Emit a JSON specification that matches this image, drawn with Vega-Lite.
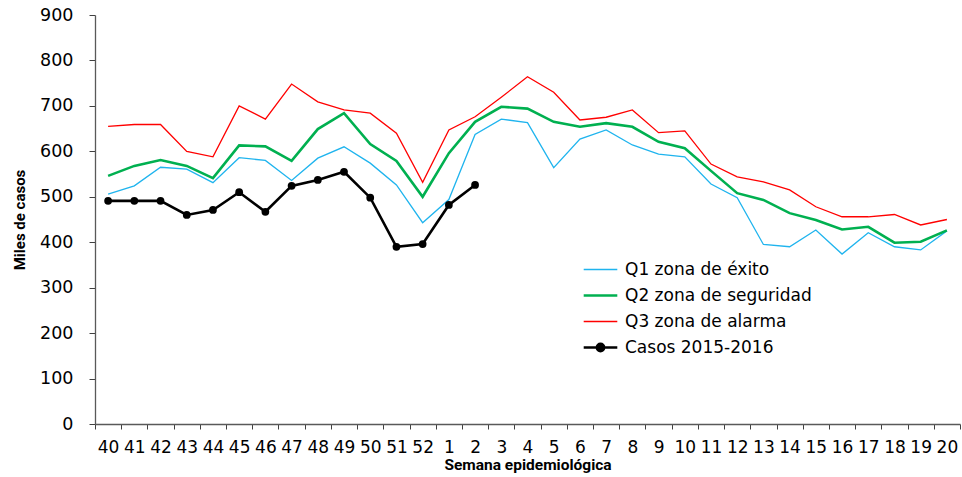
{
  "$schema": "https://vega.github.io/schema/vega-lite/v6.json",
  "width": 865,
  "height": 409,
  "autosize": "none",
  "padding": {"left": 95, "top": 15, "right": 2, "bottom": 53},
  "background": "white",
  "config": {
    "view": {"stroke": null},
    "axis": {"grid": false, "domainColor": "#595959", "tickColor": "#404040", "labelColor": "black", "titleColor": "black"}
  },
  "data": {
    "values": [
      {"week": "40", "q1": 506, "q2": 546, "q3": 655, "casos": 491},
      {"week": "41", "q1": 524, "q2": 568, "q3": 659, "casos": 491},
      {"week": "42", "q1": 565, "q2": 581, "q3": 659, "casos": 491},
      {"week": "43", "q1": 561, "q2": 568, "q3": 600, "casos": 460},
      {"week": "44", "q1": 531, "q2": 541, "q3": 588, "casos": 471},
      {"week": "45", "q1": 586, "q2": 613, "q3": 700, "casos": 510},
      {"week": "46", "q1": 580, "q2": 611, "q3": 671, "casos": 467},
      {"week": "47", "q1": 536, "q2": 579, "q3": 748, "casos": 524},
      {"week": "48", "q1": 585, "q2": 649, "q3": 709, "casos": 537},
      {"week": "49", "q1": 610, "q2": 684, "q3": 691, "casos": 555},
      {"week": "50", "q1": 574, "q2": 616, "q3": 684, "casos": 498},
      {"week": "51", "q1": 526, "q2": 579, "q3": 640, "casos": 390},
      {"week": "52", "q1": 443, "q2": 500, "q3": 532, "casos": 396},
      {"week": "1", "q1": 494, "q2": 596, "q3": 647, "casos": 482},
      {"week": "2", "q1": 637, "q2": 665, "q3": 676, "casos": 526},
      {"week": "3", "q1": 671, "q2": 698, "q3": 719, "casos": null},
      {"week": "4", "q1": 663, "q2": 694, "q3": 764, "casos": null},
      {"week": "5", "q1": 564, "q2": 665, "q3": 730, "casos": null},
      {"week": "6", "q1": 627, "q2": 654, "q3": 669, "casos": null},
      {"week": "7", "q1": 647, "q2": 662, "q3": 675, "casos": null},
      {"week": "8", "q1": 614, "q2": 654, "q3": 691, "casos": null},
      {"week": "9", "q1": 594, "q2": 621, "q3": 641, "casos": null},
      {"week": "10", "q1": 588, "q2": 607, "q3": 645, "casos": null},
      {"week": "11", "q1": 528, "q2": 557, "q3": 572, "casos": null},
      {"week": "12", "q1": 498, "q2": 508, "q3": 544, "casos": null},
      {"week": "13", "q1": 395, "q2": 493, "q3": 533, "casos": null},
      {"week": "14", "q1": 390, "q2": 464, "q3": 515, "casos": null},
      {"week": "15", "q1": 427, "q2": 449, "q3": 478, "casos": null},
      {"week": "16", "q1": 374, "q2": 428, "q3": 456, "casos": null},
      {"week": "17", "q1": 421, "q2": 434, "q3": 456, "casos": null},
      {"week": "18", "q1": 390, "q2": 399, "q3": 461, "casos": null},
      {"week": "19", "q1": 383, "q2": 401, "q3": 438, "casos": null},
      {"week": "20", "q1": 425, "q2": 426, "q3": 450, "casos": null}
    ]
  },
  "transform": [
    {"fold": ["q1", "q2", "q3", "casos"], "as": ["key", "value"]},
    {"filter": "datum.value != null"},
    {"lookup": "key", "from": {"data": {"values": [
      {"key": "q1", "series": "Q1 zona de éxito"},
      {"key": "q2", "series": "Q2 zona de seguridad"},
      {"key": "q3", "series": "Q3 zona de alarma"},
      {"key": "casos", "series": "Casos 2015-2016"}
    ]}, "key": "key", "fields": ["series"]}}
  ],
  "encoding": {
    "x": {
      "field": "week", "type": "ordinal",
      "scale": {"domain": ["40","41","42","43","44","45","46","47","48","49","50","51","52","1","2","3","4","5","6","7","8","9","10","11","12","13","14","15","16","17","18","19","20"], "paddingInner": 0, "paddingOuter": 0},
      "axis": {"title": "Semana epidemiológica", "titleFont": "Roboto", "titleFontWeight": "bold", "titleFontSize": 15.5, "titlePadding": 2, "labelFont": "DejaVu Sans", "labelFontSize": 17, "labelAngle": 0, "labelPadding": 10, "tickBand": "extent", "tickSize": 5, "labelOverlap": false, "domainWidth": 1.3}
    },
    "y": {
      "field": "value", "type": "quantitative",
      "scale": {"domain": [0, 900], "nice": false},
      "axis": {"title": "Miles de casos", "titleFont": "Roboto", "titleFontWeight": "bold", "titleFontSize": 15, "titlePadding": 12, "labelFont": "DejaVu Sans", "labelFontSize": 17.5, "labelPadding": 16, "values": [0,100,200,300,400,500,600,700,800,900], "tickSize": 6, "domainWidth": 1.3}
    },
    "color": {
      "field": "series", "type": "nominal",
      "scale": {"domain": ["Q1 zona de éxito", "Q2 zona de seguridad", "Q3 zona de alarma", "Casos 2015-2016"], "range": ["#1fb4ee", "#00b050", "#ff0000", "#000000"]},
      "legend": {
        "title": null, "orient": "none", "legendX": 497, "legendY": 246,
        "padding": 0, "labelFont": "DejaVu Sans", "labelFontSize": 17, "labelColor": "black", "labelLimit": 400,
        "symbolType": "M-2.8,0H2.8", "symbolSize": 144, "labelOffset": 16, "rowPadding": 8,
        "encode": {"symbols": {"update": {
          "shape": {"signal": "datum.value === 'Casos 2015-2016' ? 'M-2.8,0H2.8M0.6,0A0.6,0.6,0,1,1,-0.6,0A0.6,0.6,0,1,1,0.6,0Z' : 'M-2.8,0H2.8'"},
          "fill": {"signal": "datum.value === 'Casos 2015-2016' ? 'black' : 'transparent'"},
          "strokeWidth": {"signal": "(datum.value === 'Casos 2015-2016' || datum.value === 'Q2 zona de seguridad') ? 2.6 : 1.3"},
          "opacity": {"value": 1}
        }}}
      }
    }
  },
  "layer": [
    {"transform": [{"filter": "datum.key === 'q1' || datum.key === 'q3'"}], "mark": {"type": "line", "strokeWidth": 1.3}},
    {"transform": [{"filter": "datum.key === 'q2' || datum.key === 'casos'"}], "mark": {"type": "line", "strokeWidth": 2.6}},
    {"transform": [{"filter": "datum.key === 'casos'"}], "mark": {"type": "point", "filled": true, "size": 60, "opacity": 1}}
  ]
}
